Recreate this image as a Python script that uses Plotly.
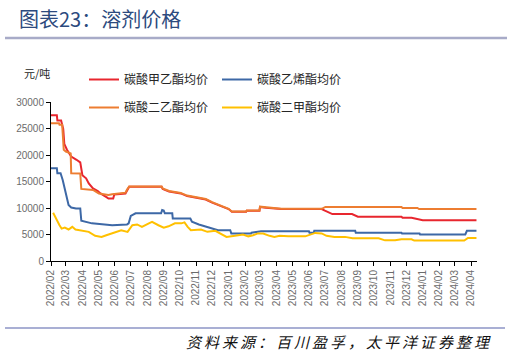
import plotly.graph_objects as go

# ---------------- data ----------------
red_dates = ["2022-02-01","2022-02-12","2022-02-13","2022-02-20","2022-02-24","2022-02-26","2022-03-03",
             "2022-03-11","2022-03-21","2022-03-28","2022-04-01","2022-04-08","2022-04-13","2022-04-21",
             "2022-04-30","2022-05-05","2022-05-17","2022-05-20","2022-05-29","2022-05-31","2022-06-21",
             "2022-06-24","2022-06-28","2022-08-28","2022-08-30","2022-09-11","2022-10-03","2022-10-15",
             "2022-11-01","2022-11-19","2022-12-01","2022-12-13","2022-12-22","2023-01-01","2023-01-07",
             "2023-02-03","2023-02-04","2023-02-28","2023-03-01","2023-03-12","2023-04-10","2023-06-25",
             "2023-07-01","2023-07-06","2023-07-15","2023-08-21","2023-09-01","2023-11-22","2023-11-24",
             "2023-12-11","2023-12-23","2024-01-01","2024-04-11"]
red_vals = [27500,27500,26500,26500,24900,22100,21000,
            19700,19100,18600,16200,15600,14650,13700,
            13200,12750,12000,11800,11800,12550,12750,
            13400,14000,14000,13600,13100,12750,12250,
            12000,11600,11000,10550,10100,9800,9300,
            9300,9500,9500,10200,10050,9800,9800,
            9500,9300,8850,8850,8350,8350,8150,
            8150,7850,7700,7700]

blue_dates = ["2022-02-01","2022-02-12","2022-02-13","2022-02-19","2022-02-23","2022-02-25","2022-02-28",
              "2022-03-03","2022-03-06","2022-03-11","2022-03-20","2022-03-28","2022-03-30","2022-04-19",
              "2022-05-08","2022-05-27","2022-06-24","2022-06-27","2022-07-01","2022-07-10","2022-08-27",
              "2022-08-29","2022-09-01","2022-09-03","2022-09-17","2022-09-18","2022-10-21","2022-10-24",
              "2022-11-06","2022-11-21","2022-12-06","2022-12-12","2023-01-04","2023-01-06","2023-02-12",
              "2023-02-13","2023-03-03","2023-06-01","2023-06-02","2023-06-10","2023-06-11","2023-08-27",
              "2023-08-28","2023-11-22","2023-11-23","2023-12-26","2023-12-27","2024-03-21","2024-03-24",
              "2024-04-11"]
blue_vals = [17500,17500,16550,16550,15300,14350,13100,
             11800,10550,10100,9900,9900,7600,7100,
             6900,6750,6900,7100,8500,9000,9000,
             9600,9500,9000,9000,8000,8000,7400,
             6900,6450,6100,5800,5800,5200,5200,
             5350,5600,5600,5350,5350,5700,5700,
             5350,5350,5200,5200,5000,5000,5700,
             5700]

orange_dates = ["2022-02-01","2022-02-16","2022-02-17","2022-02-22","2022-02-23","2022-02-25","2022-03-01",
                "2022-03-10","2022-03-11","2022-03-28","2022-03-30","2022-04-21","2022-05-02","2022-05-20",
                "2022-05-27","2022-06-21","2022-06-24","2022-06-28","2022-08-28","2022-08-30","2022-09-11",
                "2022-10-03","2022-10-15","2022-11-01","2022-11-19","2022-12-01","2022-12-13","2022-12-22",
                "2023-01-01","2023-01-07","2023-02-03","2023-02-04","2023-02-28","2023-03-01","2023-03-12",
                "2023-04-10","2023-06-25","2023-07-02","2023-11-22","2023-11-24","2023-12-22","2023-12-25",
                "2024-04-11"]
orange_vals = [26000,26000,25700,25700,24100,21000,20650,
               20300,16550,16500,13600,13400,12750,12450,
               12600,12900,13500,14050,14050,13700,13200,
               12850,12350,12100,11700,11100,10650,10200,
               9850,9350,9350,9550,9550,10250,10100,
               9850,9850,10200,10200,10000,10000,9800,
               9800]

yellow_dates = ["2022-02-05","2022-02-10","2022-02-17","2022-02-21","2022-02-27","2022-03-06","2022-03-13",
                "2022-03-19","2022-04-01","2022-04-13","2022-04-25","2022-05-07","2022-05-16","2022-05-28",
                "2022-06-07","2022-06-13","2022-06-25","2022-07-04","2022-07-13","2022-07-22","2022-08-04",
                "2022-08-10","2022-08-22","2022-09-01","2022-09-10","2022-09-22","2022-10-04","2022-10-10",
                "2022-10-16","2022-10-22","2022-11-10","2022-11-22","2022-12-07","2022-12-16","2022-12-28",
                "2023-01-13","2023-01-28","2023-02-07","2023-02-16","2023-02-25","2023-03-07","2023-03-19",
                "2023-03-28","2023-04-07","2023-04-23","2023-05-25","2023-06-04","2023-06-13","2023-06-25",
                "2023-07-04","2023-07-19","2023-08-08","2023-08-22","2023-10-10","2023-10-22","2023-11-10",
                "2023-11-22","2023-12-11","2023-12-16","2024-02-01","2024-03-01","2024-03-19","2024-03-26",
                "2024-04-11"]
yellow_vals = [9100,8000,6750,6100,6300,5950,6450,
               5950,5700,5500,4750,4550,4850,5200,
               5500,5800,5500,6750,6900,6450,7100,
               7400,6750,6300,6550,7100,7100,7300,
               6450,5800,5950,5500,5700,5200,4550,
               4750,5000,4650,4850,5200,5200,4750,
               4550,4750,4650,4650,5000,5300,5200,
               4750,4550,4550,4300,4300,3900,3900,
               4100,4100,3850,3800,3750,3850,4350,
               4350]

series_names = ["碳酸甲乙酯均价", "碳酸乙烯酯均价", "碳酸二乙酯均价", "碳酸二甲酯均价"]
y_ticks = [0, 5000, 10000, 15000, 20000, 25000, 30000]
x_range = ["2022-02-01", "2024-04-12"]

title_text = "图表23：溶剂价格"
unit_text = "元/吨"
source_text = "资料来源：百川盈孚，太平洋证券整理"

# ---------------- figure ----------------
W, H = 507, 355
ML, MR, MT, MB = 51, 30, 102, 94

colors = ["#E8262E", "#3D68A6", "#ED7D31", "#FFC000"]
cjk = "Noto Sans CJK SC"

fig = go.Figure()
data = [(red_dates, red_vals), (blue_dates, blue_vals), (orange_dates, orange_vals), (yellow_dates, yellow_vals)]
legends = ["legend", "legend", "legend2", "legend2"]
for (d, v), name, c, lg in zip(data, series_names, colors, legends):
    fig.add_trace(go.Scatter(x=d, y=v, name=name, mode="lines",
                             line=dict(color=c, width=2), legend=lg))

pw = W - ML - MR
ph = H - MT - MB

def px_x(px):
    return (px - ML) / pw

def px_y(py):
    return 1 + (MT - py) / ph

legend_common = dict(orientation="h", bgcolor="rgba(0,0,0,0)", borderwidth=0,
                     font=dict(family=cjk, size=12, color="#262626"),
                     xanchor="left", yanchor="middle", entrywidth=88, itemwidth=30,
                     tracegroupgap=0)

fig.update_layout(
    width=W, height=H,
    margin=dict(l=ML, r=MR, t=MT, b=MB, autoexpand=False),
    paper_bgcolor="white", plot_bgcolor="white",
    legend=dict(x=px_x(84), y=px_y(79.5), **legend_common),
    legend2=dict(x=px_x(84), y=px_y(107.5), **legend_common),
    xaxis=dict(type="date", range=x_range, dtick="M1", tick0="2022-02-01",
               tickformat="%Y/%m", tickangle=-90, showgrid=False, automargin=False,
               showline=True, linecolor="black", linewidth=1,
               ticks="outside", ticklen=4, tickcolor="black",
               tickfont=dict(family="Liberation Sans, Arial", size=10, color="#6B6B6B")),
    yaxis=dict(range=[0, 30000], tickvals=y_ticks, tickformat="d", showgrid=False, automargin=False,
               showline=True, linecolor="black", linewidth=1,
               ticks="outside", ticklen=4, tickcolor="black",
               tickfont=dict(family="Liberation Sans, Arial", size=10, color="#6B6B6B")),
    showlegend=True,
)

# title and decorations
fig.add_annotation(text=title_text, xref="paper", yref="paper", x=px_x(17), y=px_y(18),
                   xanchor="left", yanchor="middle", showarrow=False,
                   font=dict(family=cjk, size=20, color="#2C4A7E"))
fig.add_annotation(text=unit_text, xref="paper", yref="paper", x=px_x(22), y=px_y(73),
                   xanchor="left", yanchor="middle", showarrow=False,
                   font=dict(family=cjk, size=11, color="#262626"))
fig.add_annotation(text="<i><span style='letter-spacing:3px'>" + source_text + "</span></i>",
                   xref="paper", yref="paper", x=px_x(494), y=px_y(341),
                   xanchor="right", yanchor="middle", showarrow=False,
                   font=dict(family=cjk, size=15, color="#111111"))

fig.add_shape(type="line", xref="paper", yref="paper", x0=px_x(5), x1=px_x(507), y0=px_y(38), y1=px_y(38),
              line=dict(color="#A8ABC8", width=2.5))
fig.add_shape(type="line", xref="paper", yref="paper", x0=px_x(5), x1=px_x(505), y0=px_y(328), y1=px_y(328),
              line=dict(color="#8C94C6", width=1.5))

fig.write_html("out.html", config={"displayModeBar": False},
               post_script="document.body.style.margin='0';document.body.style.padding='0';")
